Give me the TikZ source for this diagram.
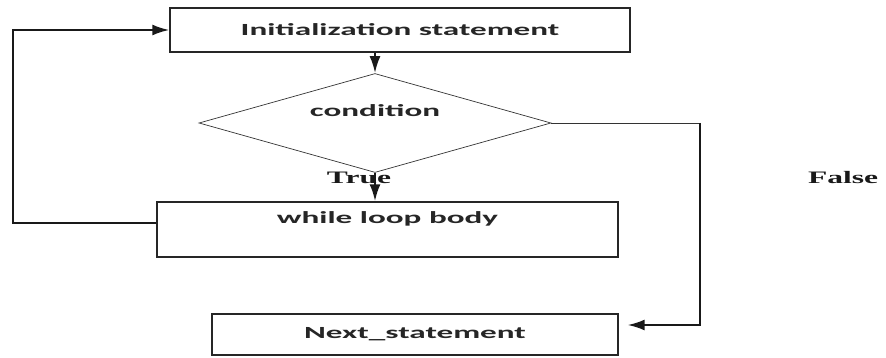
\documentclass[tikz,border=0pt]{standalone}
\usepackage{fontspec}
\usetikzlibrary{positioning}
\usetikzlibrary{shapes.geometric}
\usetikzlibrary{arrows.meta}
\newfontfamily\boxfont{Carlito}[FakeStretch=1.95]
\newfontfamily\labelfont{Liberation Serif}[FakeStretch=1.8]

\begin{document}
\begin{tikzpicture}[x=1pt, y=-1pt,
    stmt/.style={rectangle, draw=black!85, line width=1.4pt, inner sep=0pt,
        font=\boxfont\bfseries\fontsize{17}{19}\selectfont, text=black!85},
    flow/.style={line width=2.3pt, draw=black!90, -{Latex[length=17pt,width=11pt]}},
    tag/.style={font=\labelfont\bfseries\fontsize{17.5}{19}\selectfont, text=black!90}]

\useasboundingbox (0,0) rectangle (886,358);

% Statements
\node[stmt, minimum width=460pt, minimum height=44pt] (init) at (400,30) {Initialization statement};
\node[diamond, aspect=3.5, draw=black!80, line width=0.7pt, inner sep=0pt, minimum width=352pt, minimum height=99pt,
    text height=10pt, text depth=22pt, font=\boxfont\bfseries\fontsize{17}{19}\selectfont, text=black!85]
    (cond) at (375,123) {condition};
\node[stmt, minimum width=461pt, text height=21pt, text depth=34pt] (body) at (387.5,229.5) {while loop body};
\node[stmt, minimum width=406pt, minimum height=41pt] (next) at (415,334.5) {Next\_statement};

% Branch labels
\node[tag] (true) at (359,178) {True};
\node[tag] (false) at (843,178) {False};

% Bends
\coordinate (loopcorner) at (13,223);
\coordinate (falsecorner) at (700,123);

% Connections
\draw[flow] (init.south -| cond.north) -- (cond.north);
\draw[flow] (cond.south) -- (body.north -| cond.south);
\draw[flow, line width=2.1pt] ([yshift=6.5pt]body.west) -- (loopcorner) |- (init.west);
\draw[line width=0.9pt, draw=black!80] (cond.east) -- (falsecorner);
\draw[flow, line width=2pt, shorten >=9pt] (falsecorner) |- ([yshift=9.5pt]next.east);

\end{tikzpicture}
\end{document}
